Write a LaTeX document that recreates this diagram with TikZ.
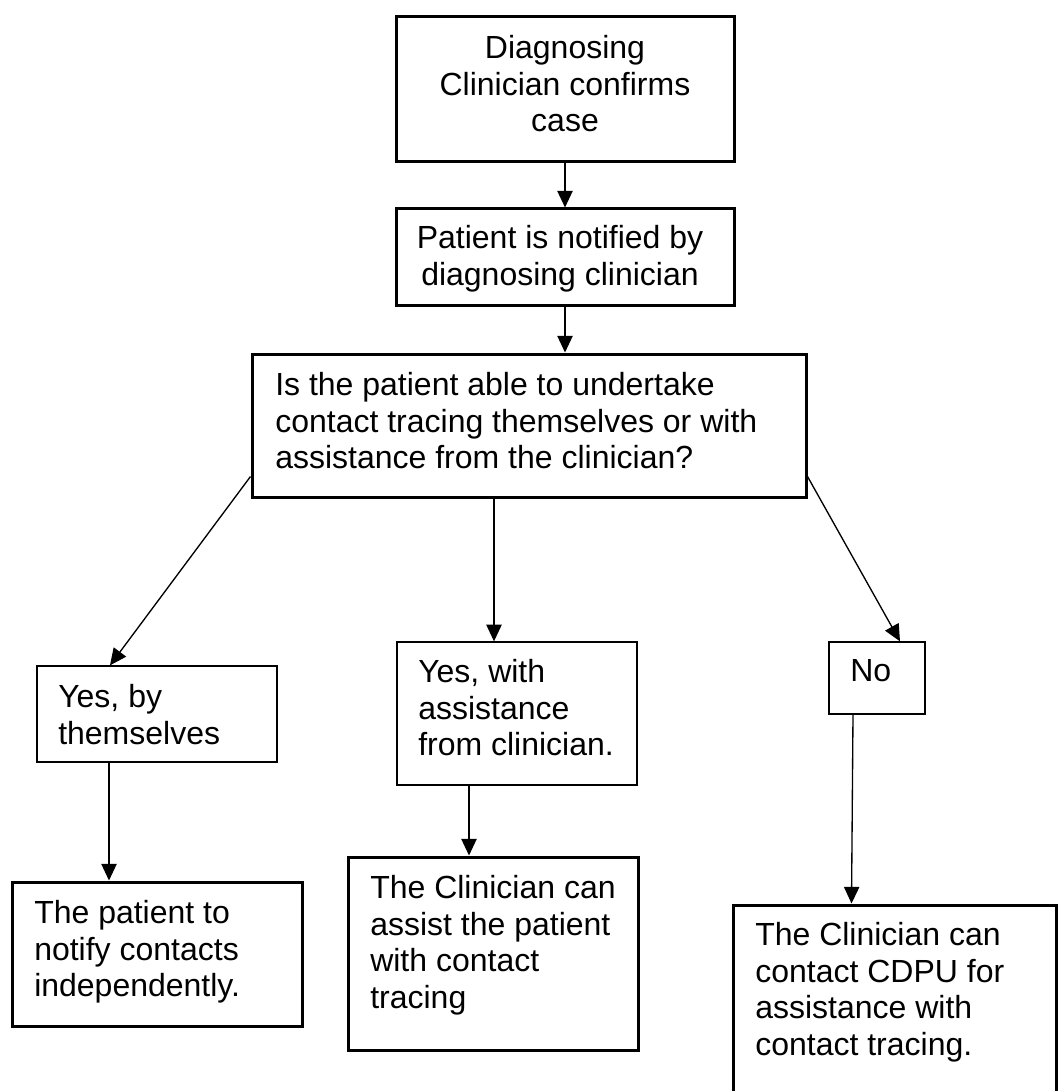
\documentclass[tikz,border=0pt]{standalone}
\usepackage{fontspec}
\setmainfont{Liberation Sans}
\usetikzlibrary{arrows.meta,calc}
\begin{document}
\begin{tikzpicture}[x=0.75pt,y=-0.75pt,
  thickbox/.style={draw=black, line width=2.25pt, rectangle, inner sep=0pt},
  thinbox/.style={draw=black, line width=1pt, rectangle, inner sep=0pt},
  txt/.style={inner sep=0pt, font=\fontsize{24}{27.5}\selectfont, align=left, anchor=north west},
  ctxt/.style={inner sep=0pt, font=\fontsize{24}{27.5}\selectfont, align=center, anchor=north},
  arr/.style={draw=black, line width=1pt, -{Triangle[length=12.5pt,width=11.5pt]}}
]
\useasboundingbox (0,0) rectangle (1058,1091);
\clip (0,0) rectangle (1058,1091);
\fill[white] (0,0) rectangle (1058,1091);

% boxes
\node[thickbox, minimum width=253.5pt, minimum height=108.75pt] (b1) at (565,89.5) {};
\node[thickbox, minimum width=253.5pt, minimum height=72pt] (b2) at (565,257) {};
\node[thickbox, minimum width=415.5pt, minimum height=107.25pt] (b3) at (529,425.5) {};
\node[thinbox, minimum width=180pt, minimum height=72pt] (b4) at (157,714) {};
\node[thinbox, minimum width=180pt, minimum height=107.25pt] (b5) at (517,713.5) {};
\node[thinbox, minimum width=72pt, minimum height=54pt] (b6) at (877,678) {};
\node[thickbox, minimum width=217.5pt, minimum height=108pt] (b7) at (157,954) {};
\node[thickbox, minimum width=217.5pt, minimum height=144.75pt] (b8) at (493,953.5) {};
\node[thickbox, minimum width=242.25pt, minimum height=183.75pt] (b9) at (894.5,1027.5) {};

% texts
\node[ctxt] (t1) at (565,35) {Diagnosing\\Clinician confirms\\case};
\node[ctxt] (t2) at (560,225) {Patient is notified by\\diagnosing clinician};
\node[txt] (t3) at (275,372) {Is the patient able to undertake\\contact tracing themselves or with\\assistance from the clinician?};
\node[txt] (t4) at (58,684) {Yes, by\\themselves};
\node[txt] (t5) at (418,659) {Yes, with\\assistance\\from clinician.};
\node[txt] (t6) at (850,659) {No};
\node[txt] (t7) at (34,900) {The patient to\\notify contacts\\independently.};
\node[txt] (t8) at (370,875) {The Clinician can\\assist the patient\\with contact\\tracing};
\node[txt] (t9) at (755,922) {The Clinician can\\contact CDPU for\\assistance with\\contact tracing.};

% connectors
\draw[arr] (b1.south) -- (b2.north);
\draw[arr] (b2.south) -- (b2.south |- b3.north);
\draw[arr] ($(b3.south west)+(0,-22)$) -- ($(b4.north)+(-47,0)$);
\draw[arr] ($(b3.south)+(-35,0)$) -- ($(b5.north)+(-23,0)$);
\draw[arr] ($(b3.south east)+(0,-22)$) -- ($(b6.north)+(23,0)$);
\draw[arr] ($(b4.south)+(-48,0)$) -- ($(b7.north)+(-48,0)$);
\draw[arr] ($(b5.south)+(-48,0)$) -- ($(b8.north)+(-24,0)$);
\draw[arr] ($(b6.south)+(-24,0)$) -- ($(b9.north west)+(120,0)$);
\end{tikzpicture}
\end{document}
